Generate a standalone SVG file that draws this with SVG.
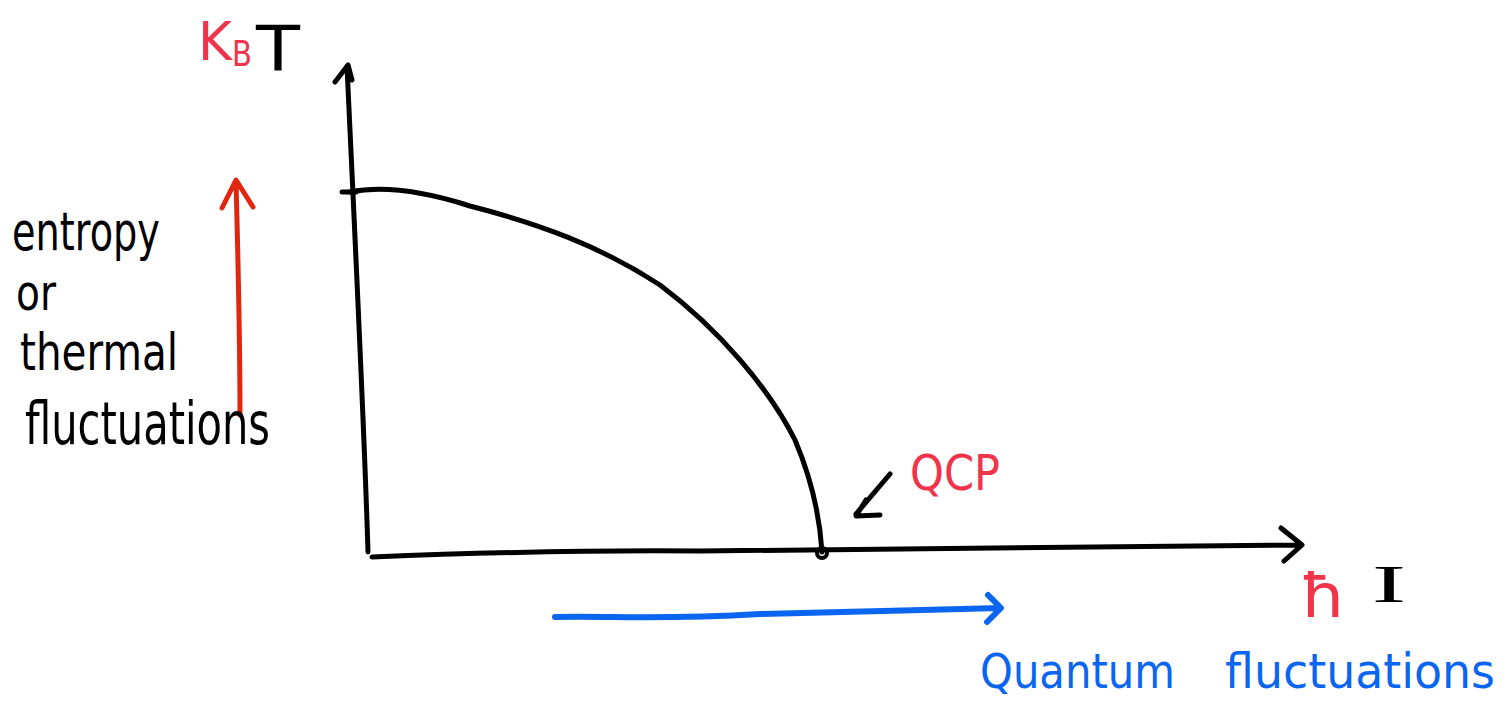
<svg xmlns="http://www.w3.org/2000/svg" width="1510" height="703" viewBox="0 0 1510 703">
<style>
.ink{fill:none;stroke:#000;stroke-width:5;stroke-linecap:round;stroke-linejoin:round}
.red{fill:none;stroke:#e0260e;stroke-width:5;stroke-linecap:round;stroke-linejoin:round}
.blue{fill:none;stroke:#0a66f0;stroke-width:6;stroke-linecap:round;stroke-linejoin:round}
.t{font-family:"DejaVu Sans","Liberation Sans",sans-serif;font-weight:normal}
.s{font-family:"Liberation Serif","DejaVu Serif",serif;font-weight:normal}
.tb{fill:#000}
.tr{fill:#f0344a}
.tbl{fill:#0a66f0}
</style>
<rect width="1510" height="703" fill="#fff"/>
<g id="connectors">
  <path id="y-axis" class="ink" d="M368,552 C364,420 356,260 347,66 M335,82 L348,65 L352,80"/>
  <path id="x-axis" class="ink" d="M372,557 C500,552 600,550 700,551 C900,550 1100,548 1300,545 M1281,528 L1302,545 L1284,561"/>
  <path id="tick" class="ink" d="M342,192 L356,192"/>
  <path id="phase-boundary" class="ink" d="M350,192 C380,186 420,190 470,206 C540,224 600,246 660,285 C720,330 770,390 795,440 C812,480 820,520 822,552"/>
  <circle id="qcp-point" cx="822" cy="553" r="5" fill="none" stroke="#000" stroke-width="4"/>
  <path id="qcp-arrow" class="ink" d="M890,474 L856,514 M880,515 L856,516 L866,500"/>
  <path id="thermal-arrow" class="red" d="M240,415 C240,330 238,260 236,181 M222,208 L236,180 L253,207"/>
  <path id="quantum-arrow" class="blue" d="M555,617 C620,616 660,620 760,614 C850,612 920,610 1000,608 M988,595 L1001,608 L987,622"/>
</g>
<g id="label-kbt">
  <text class="t tr" x="198" y="60" font-size="54" textLength="34" lengthAdjust="spacingAndGlyphs">K</text>
  <text class="t tr" x="232" y="66" font-size="36" textLength="20" lengthAdjust="spacingAndGlyphs">B</text>
  <text class="t tb" x="256" y="70" font-size="62" textLength="44" lengthAdjust="spacingAndGlyphs">T</text>
</g>
<g id="label-thermal">
  <text class="t tb" x="12" y="250" font-size="54" textLength="148" lengthAdjust="spacingAndGlyphs">entropy</text>
  <text class="t tb" x="16" y="310" font-size="50" textLength="40" lengthAdjust="spacingAndGlyphs">or</text>
  <text class="t tb" x="20" y="370" font-size="52" textLength="158" lengthAdjust="spacingAndGlyphs">thermal</text>
  <text class="t tb" x="25" y="444" font-size="58" textLength="245" lengthAdjust="spacingAndGlyphs">fluctuations</text>
</g>
<g id="label-qcp">
  <text class="t tr" x="910" y="490" font-size="50" textLength="90" lengthAdjust="spacingAndGlyphs">QCP</text>
</g>
<g id="label-hbar-i">
  <text class="t tr" x="1300" y="617" font-size="60" textLength="46" lengthAdjust="spacingAndGlyphs">ħ</text>
  <text class="s tb" x="1372" y="602" font-size="52" textLength="34" lengthAdjust="spacingAndGlyphs">I</text>
</g>
<g id="label-quantum">
  <text class="t tbl" x="980" y="688" font-size="48" textLength="195" lengthAdjust="spacingAndGlyphs">Quantum</text>
  <text class="t tbl" x="1225" y="688" font-size="48" textLength="270" lengthAdjust="spacingAndGlyphs">fluctuations</text>
</g>
</svg>
